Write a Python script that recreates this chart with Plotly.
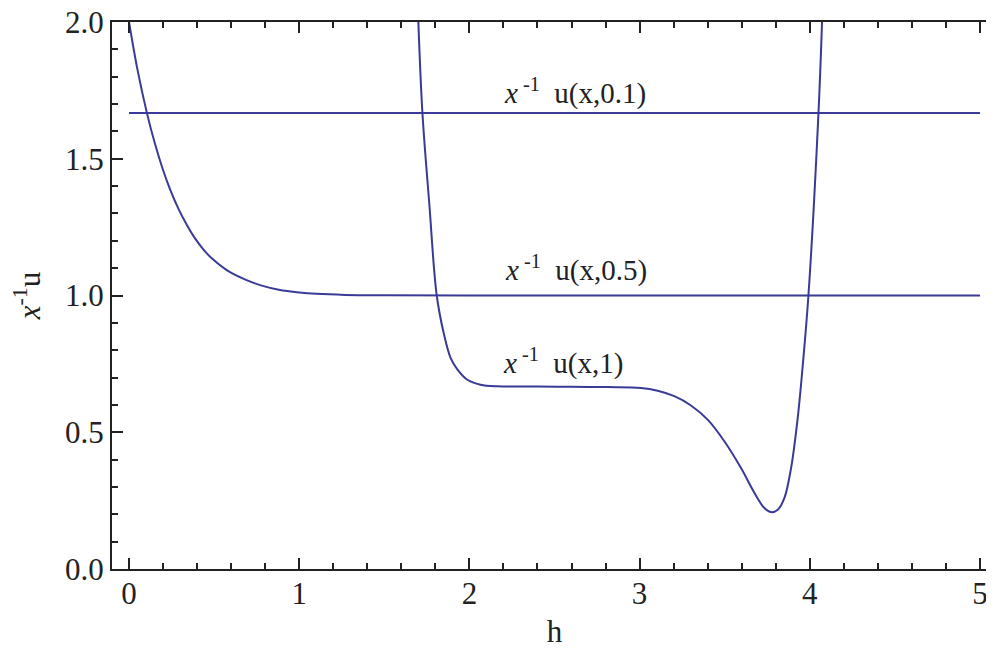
import plotly.graph_objects as go

# x^-1 u(x,0.1): flat line
h_01 = [0.0, 5.0]
u_01 = [1.667, 1.667]

# x^-1 u(x,0.5): decays from 2 to 1
h_05 = [0.0, 0.05, 0.106, 0.15, 0.194, 0.24, 0.292, 0.34, 0.39, 0.44, 0.488,
        0.586, 0.684, 0.78, 0.88, 1.0, 1.1, 1.27, 1.5, 2.0, 3.0, 4.0, 5.0]
u_05 = [2.0, 1.825, 1.665, 1.56, 1.47, 1.39, 1.315, 1.258, 1.207, 1.166, 1.135,
        1.088, 1.058, 1.036, 1.021, 1.011, 1.006, 1.002, 1.0005, 1.0, 1.0, 1.0, 1.0]

# x^-1 u(x,1): steep drop, plateau, dip, steep rise
h_1 = [1.70, 1.724, 1.765, 1.808, 1.851, 1.89, 1.93, 1.988, 2.066, 2.165,
       2.4, 2.6, 2.812, 3.008, 3.106, 3.204, 3.302, 3.4, 3.498, 3.596,
       3.675, 3.733, 3.772, 3.812, 3.851, 3.89, 3.929, 3.959, 3.992,
       4.051, 4.072]
u_1 = [2.0, 1.667, 1.33, 1.0, 0.857, 0.771, 0.729, 0.692, 0.674, 0.668,
       0.667, 0.666, 0.665, 0.662, 0.652, 0.632, 0.598, 0.546, 0.467, 0.369,
       0.278, 0.223, 0.208, 0.217, 0.26, 0.369, 0.552, 0.747, 1.0,
       1.667, 2.0]

labels = ["<i>x</i><sup> -1</sup>  u(x,0.1)",
          "<i>x</i><sup> -1</sup>  u(x,0.5)",
          "<i>x</i><sup> -1</sup>  u(x,1)"]
label_x = [2.19, 2.2, 2.185]
label_y = [1.745, 1.1, 0.76]

line_color = "#3a3a98"
ink = "#222"
serif = "Liberation Serif"

fig = go.Figure()
for hx, uy in [(h_01, u_01), (h_05, u_05), (h_1, u_1)]:
    fig.add_trace(go.Scatter(
        x=hx, y=uy, mode="lines",
        line=dict(color=line_color, width=2, shape="spline", smoothing=1.0),
        showlegend=False,
    ))

for txt, lx, ly in zip(labels, label_x, label_y):
    fig.add_annotation(
        x=lx, y=ly, text=txt, showarrow=False,
        xanchor="left", yanchor="middle",
        font=dict(family=serif, size=29, color=ink),
    )

axis_common = dict(
    showline=True, linecolor=ink, linewidth=2, mirror="allticks",
    ticks="inside", ticklen=11, tickwidth=2, tickcolor=ink,
    showgrid=False, zeroline=False, automargin=False,
    ticklabeloverflow="allow",
    tickfont=dict(family=serif, size=31, color=ink),
)

fig.update_xaxes(
    range=[-0.1, 5.1], tick0=0, dtick=1,
    minor=dict(dtick=0.2, ticks="inside", ticklen=6, tickwidth=2, tickcolor=ink),
    title=dict(text="h", font=dict(family=serif, size=31, color=ink), standoff=10),
    ticklabelstandoff=-4,
    **axis_common,
)
fig.update_yaxes(
    range=[0, 2], tick0=0, dtick=0.5, tickformat=".1f",
    minor=dict(dtick=0.1, ticks="inside", ticklen=6, tickwidth=2, tickcolor=ink),
    title=dict(text="<i>x</i><sup>-1</sup>u", font=dict(family=serif, size=31, color=ink), standoff=16),
    **axis_common,
)

fig.update_layout(
    width=994, height=654,
    margin=dict(l=104, r=5, t=14, b=93),
    plot_bgcolor="white", paper_bgcolor="white",
)

fig.write_html("out.html")
